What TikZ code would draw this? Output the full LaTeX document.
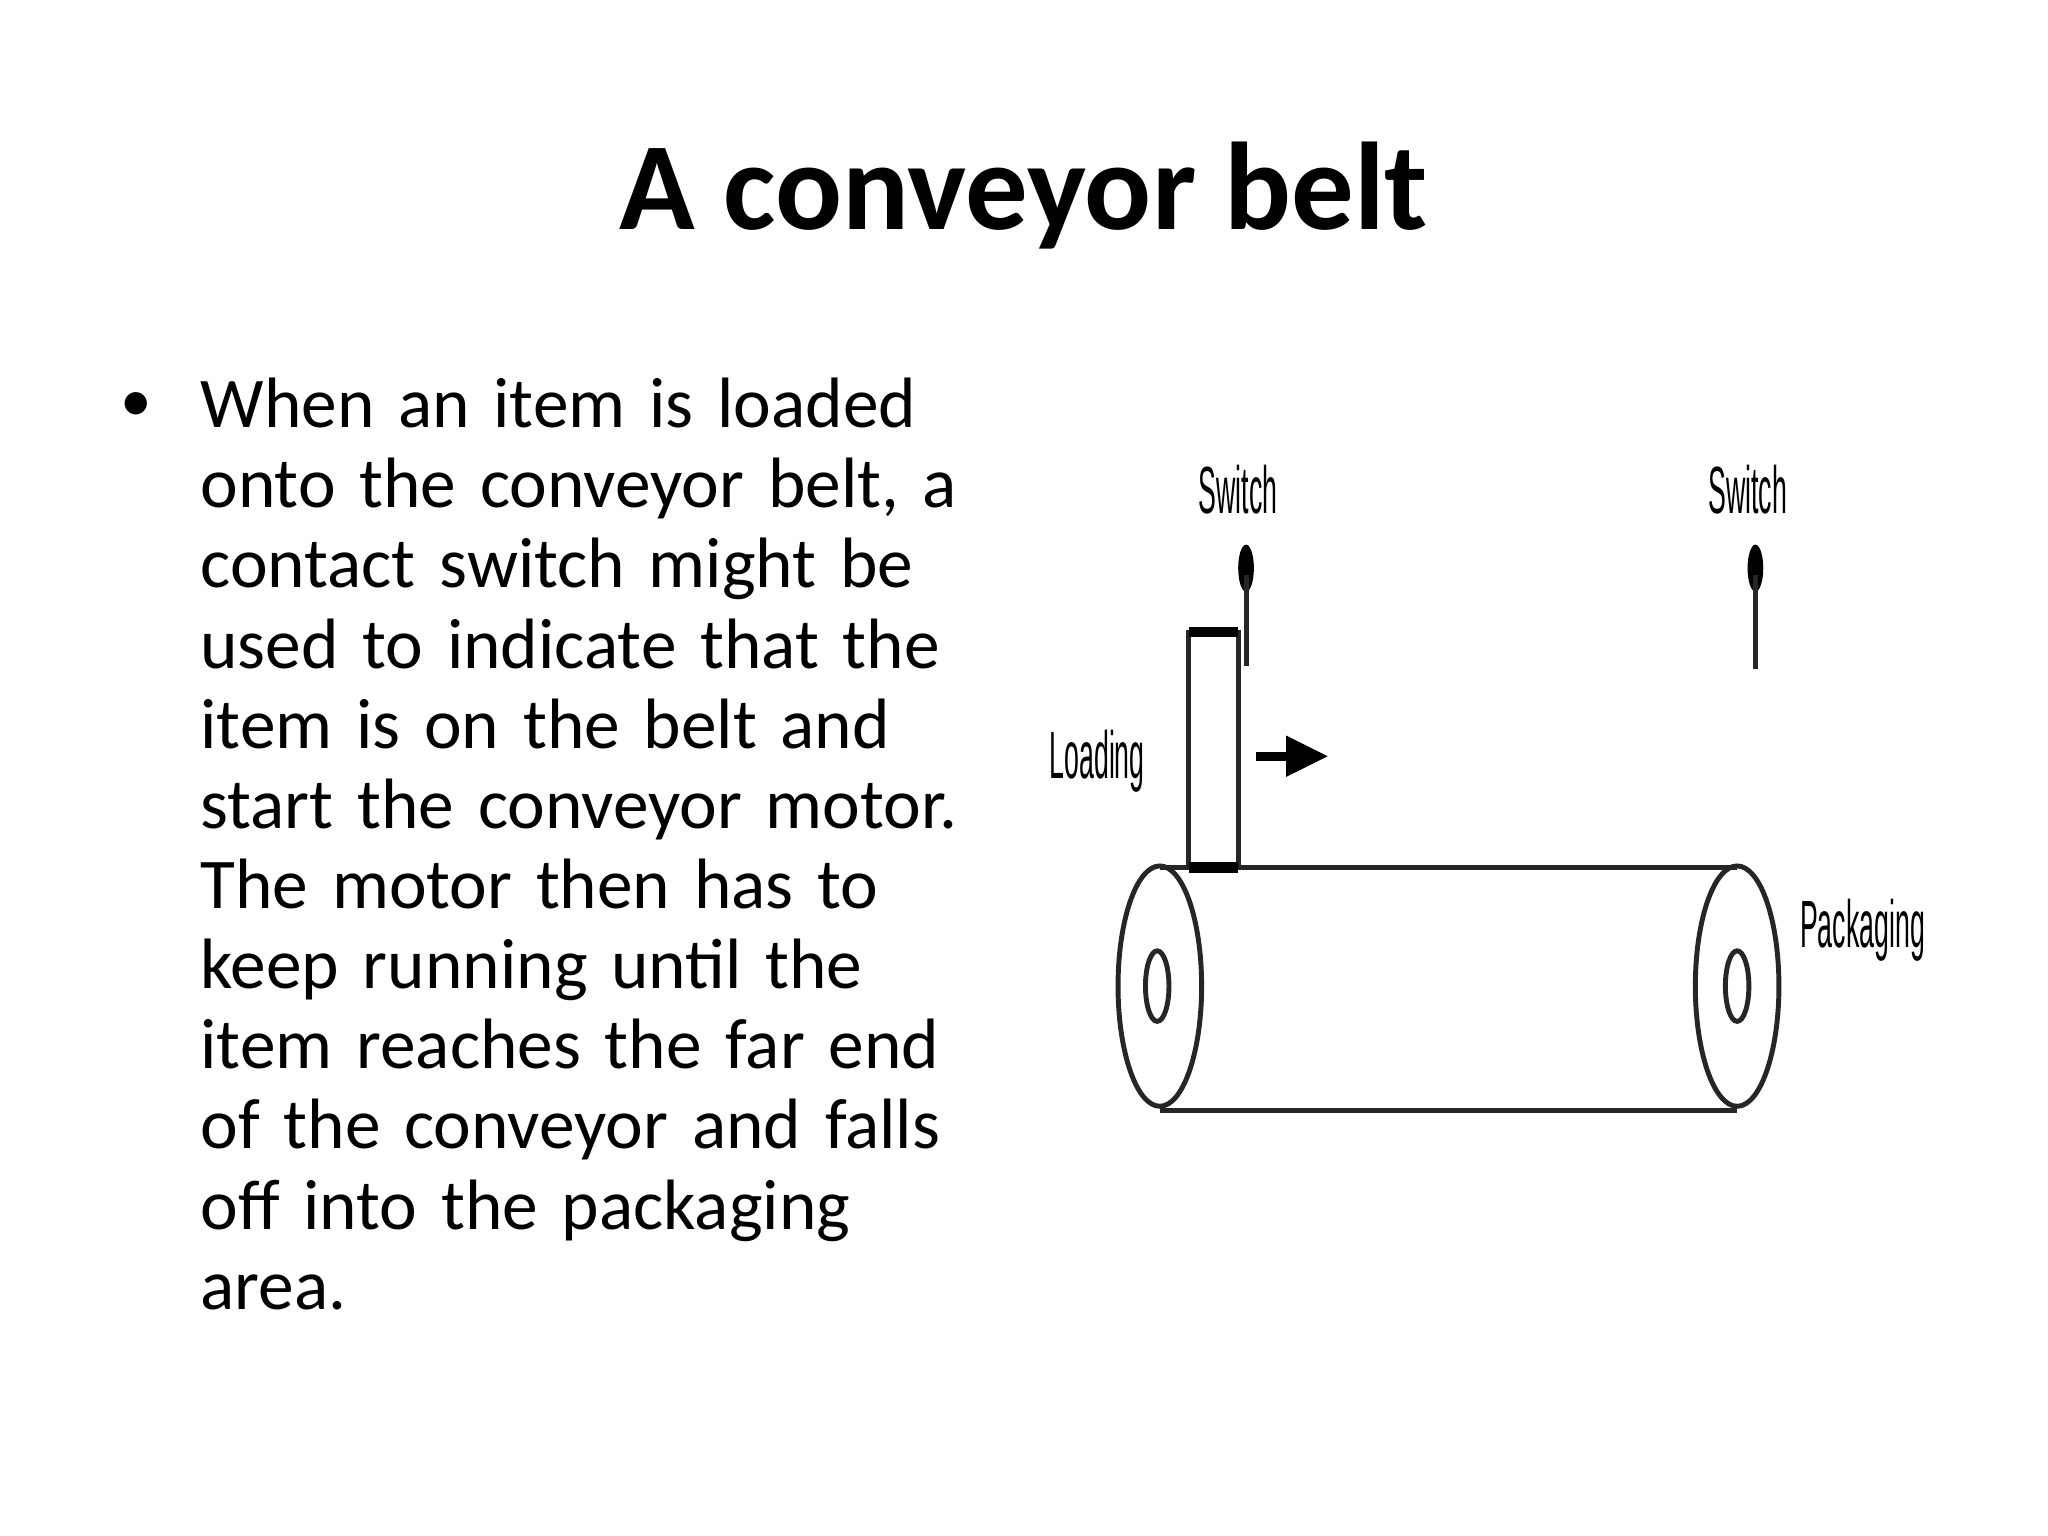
\documentclass[tikz,border=0pt]{standalone}
\usepackage{fontspec}
\setmainfont{Carlito}
\newfontfamily\narrow[FakeStretch=0.4]{Liberation Sans}
\usetikzlibrary{arrows.meta}
\begin{document}
\begin{tikzpicture}[x=0.013061cm,y=-0.013061cm,
  lbl/.style={font=\narrow\fontsize{19}{21}\selectfont},
  ln/.style={draw=black!85,line width=1.4pt}]
\useasboundingbox (0,0) rectangle (1568,1176);
\node[font=\bfseries\fontsize{35.5}{40}\selectfont] (title) at (784,150) {A conveyor belt};
\node[anchor=north west,align=left,text width=8.5cm,font=\fontsize{20.3}{22.8}\selectfont,inner sep=0] (body) at (153,289)
{\raggedright When an item is loaded\\ onto the conveyor belt, a\\ contact switch might be\\ used to indicate that the\\ item is on the belt and\\ start the conveyor motor.\\ The motor then has to\\ keep running until the\\ item reaches the far end\\ of the conveyor and falls\\ off into the packaging\\ area.};
\node[font=\fontsize{18}{20}\selectfont] (bullet) at (104,312) {•};
% cylinder
\draw[ln] (888,664) -- (1330,664);
\draw[ln] (888,850) -- (1330,850);
\draw[ln] (888,755) ellipse [x radius=32,y radius=92];
\draw[ln] (1330,755) ellipse [x radius=32,y radius=92];
\draw[ln] (886,755) ellipse [x radius=9,y radius=27];
\draw[ln] (1330,755) ellipse [x radius=9,y radius=27];
% box
\draw[ln] (910,664) -- (910,484) -- (948,484) -- (948,664);
\draw[line width=3pt] (910,484) -- (948,484);
\draw[line width=3pt] (910,664) -- (948,664);
% switches
\fill (954,435) ellipse [x radius=6,y radius=18];
\draw[ln] (954,440) -- (954,510);
\fill (1344,435) ellipse [x radius=6,y radius=18];
\draw[ln] (1344,440) -- (1344,512);
\coordinate (a1) at (962,579); \coordinate (a2) at (1017,579);
\draw[line width=2.5pt,-{Triangle[length=12pt,width=11pt]}] (a1) -- (a2);
\node[lbl] (s1) at (948,375) {Switch};
\node[lbl] (s2) at (1338,375) {Switch};
\node[lbl] (load) at (840,583) {Loading};
\node[lbl] (pack) at (1426,712) {Packaging};
\end{tikzpicture}
\end{document}
